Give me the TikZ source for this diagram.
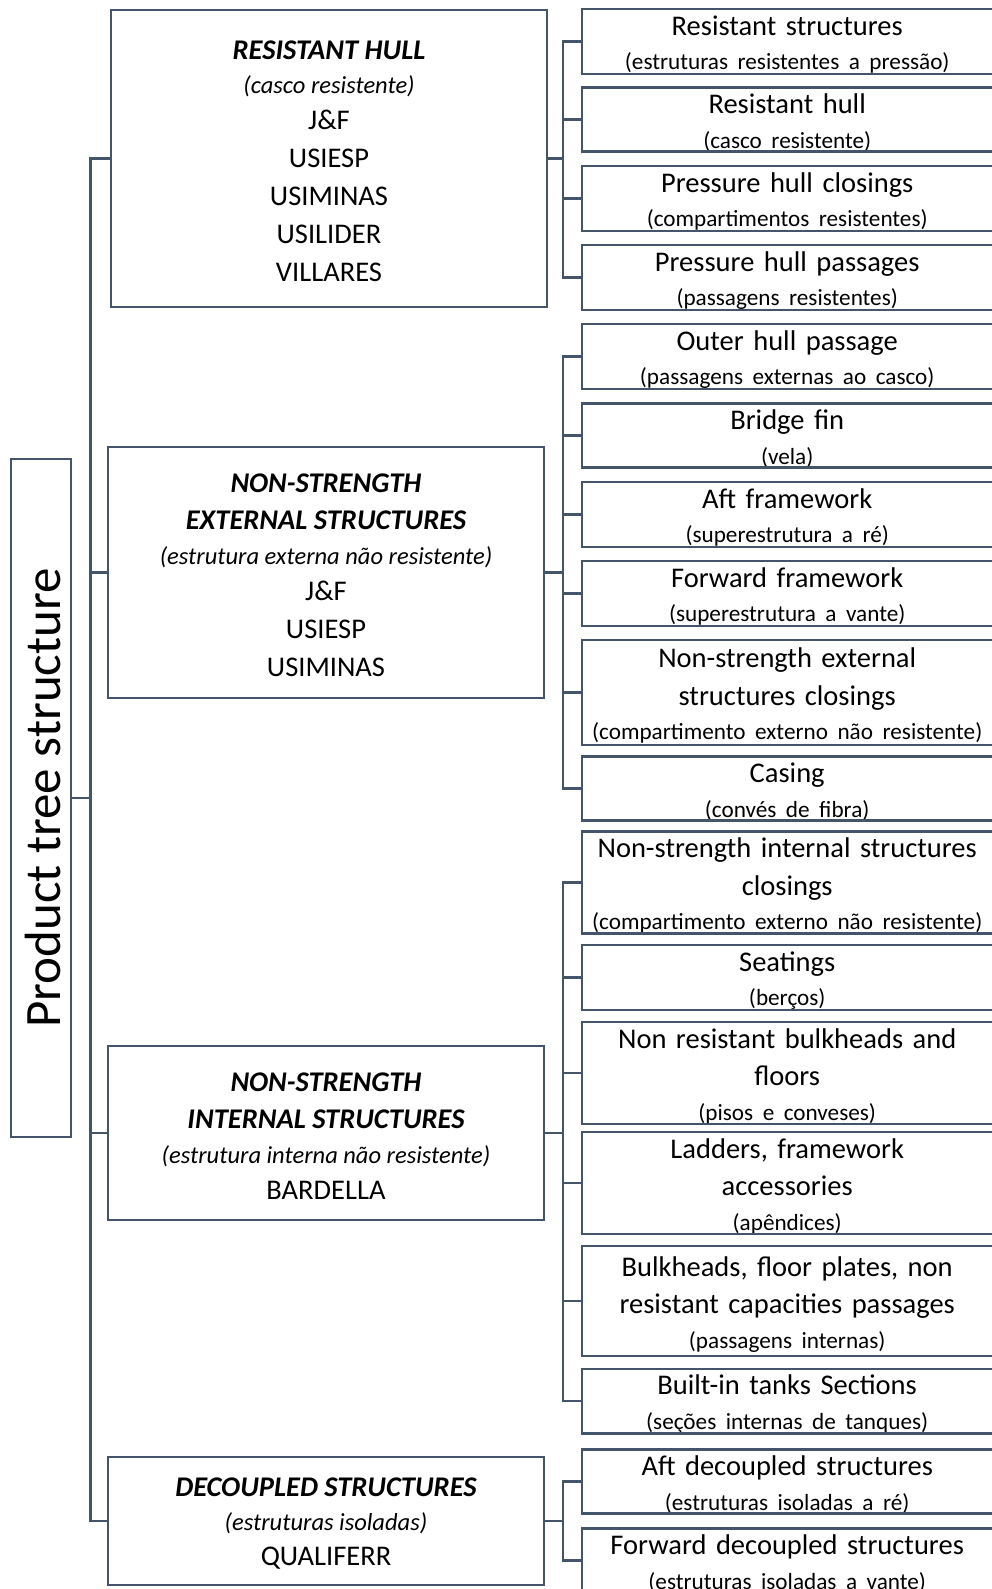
\documentclass[tikz,border=0pt]{standalone}
\usepackage{fontspec}
\setmainfont{Carlito}
\definecolor{edge}{RGB}{68,84,106}
\newcommand\leaffont{\fontsize{28.5}{34.5}\selectfont}
\newcommand\leafsub{\fontsize{23.2}{34.5}\selectfont}
\newcommand\groupfont{\fontsize{28.5}{34}\selectfont}
\newcommand\grouptitle{\fontsize{28.5}{34}\selectfont\bfseries\itshape}
\newcommand\groupsub{\fontsize{24.5}{34}\selectfont\itshape}
\newcommand\rootfont{\fontsize{51}{60}\selectfont}
% struts that set the height of a first line
\newcommand\leafstrut{\rule{0pt}{26pt}}
\newcommand\groupstrut{\rule{0pt}{24pt}}
% one leaf: name, centre y, height, text
\newcommand\leafbox[4]{%
  \node[leaf, minimum height=#3pt] (#1) at (582,#2) {\leafstrut#4};
  \draw[boxline] (#1.north west) rectangle ([xshift=20pt]#1.south east);
}
\begin{document}
\begin{tikzpicture}[x=1pt,y=-1pt,
  boxline/.style={draw=edge, line width=2.2pt},
  conn/.style={draw=edge, line width=2.2pt},
  leaf/.style={inner xsep=0pt, inner ysep=0pt, text width=410pt, align=center,
    anchor=west, font=\leaffont},
  group/.style={boxline, fill=white, minimum width=436pt, inner sep=0pt,
    align=center, font=\groupfont},
  rootbox/.style={boxline, fill=white, minimum width=60pt, minimum height=678pt, inner sep=0pt}]
\useasboundingbox (0,0) rectangle (992,1589);
\clip (0,0) rectangle (992,1589);

\coordinate (trunkx) at (90.5,0);
\coordinate (busx) at (563,0);

% root
\node[rootbox] (root) at (41,798) {};
\node[rotate=90, font=\rootfont, inner sep=0pt] (rootlabel) at (43,798) {Product tree structure};

% first level
\node[group, minimum height=297pt] (RH) at (329,158.5) {%
  \groupstrut\grouptitle RESISTANT HULL\\
  \groupsub (casco resistente)\\[1.5pt]
  J\&F\\[4pt] USIESP\\[4pt] USIMINAS\\[4pt] USILIDER\\[4pt] VILLARES};
\node[group, minimum height=251pt] (NSE) at (326,572.5) {%
  \groupstrut\grouptitle NON-STRENGTH\\[3.5pt]
  \grouptitle EXTERNAL STRUCTURES\\[0.5pt]
  \groupsub (estrutura externa não resistente)\\[2pt]
  J\&F\\[4pt] USIESP\\[4pt] USIMINAS};
\node[group, minimum height=174pt] (NSI) at (326,1133) {%
  \groupstrut\grouptitle NON-STRENGTH\\[3.5pt]
  \grouptitle INTERNAL STRUCTURES\\[0.5pt]
  \groupsub (estrutura interna não resistente)\\[2pt]
  BARDELLA};
\node[group, minimum height=128pt] (DS) at (326,1521) {%
  \groupstrut\grouptitle DECOUPLED STRUCTURES\\
  \groupsub (estruturas isoladas)\\[1.5pt]
  QUALIFERR};

% leaves
\leafbox{l1}{41.5}{63}{Resistant structures\\ {\leafsub (estruturas resistentes a pressão)}}
\leafbox{l2}{119.5}{63}{Resistant hull\\ {\leafsub (casco resistente)}}
\leafbox{l3}{198.5}{63}{Pressure hull closings\\ {\leafsub (compartimentos resistentes)}}
\leafbox{l4}{277.5}{63}{Pressure hull passages\\ {\leafsub (passagens resistentes)}}
\leafbox{l5}{356.5}{63}{Outer hull passage\\ {\leafsub (passagens externas ao casco)}}
\leafbox{l6}{435.5}{63}{Bridge fin\\ {\leafsub (vela)}}
\leafbox{l7}{514.5}{63}{Aft framework\\ {\leafsub (superestrutura a ré)}}
\leafbox{l8}{593.5}{63}{Forward framework\\ {\leafsub (superestrutura a vante)}}
\leafbox{l9}{692.5}{105}{Non-strength external\\[3pt] structures closings\\ {\leafsub (compartimento externo não resistente)}}
\leafbox{l10}{788.5}{63}{Casing\\ {\leafsub (convés de fibra)}}
\leafbox{l11}{882.5}{95}{Non-strength internal structures\\[3pt] closings\\ {\leafsub (compartimento externo não resistente)}}
\leafbox{l12}{977.5}{63}{Seatings\\ {\leafsub (berços)}}
\leafbox{l13}{1073}{96}{Non resistant bulkheads and\\[3pt] floors\\ {\leafsub (pisos e conveses)}}
\leafbox{l14}{1183}{94}{Ladders, framework\\[3pt] accessories\\ {\leafsub (apêndices)}}
\leafbox{l15}{1301}{110}{Bulkheads, floor plates, non\\[3pt] resistant capacities passages\\ {\leafsub (passagens internas)}}
\leafbox{l16}{1401}{62}{Built-in tanks Sections\\ {\leafsub (seções internas de tanques)}}
\leafbox{l17}{1481.5}{63}{Aft decoupled structures\\ {\leafsub (estruturas isoladas a ré)}}
\leafbox{l18}{1560.5}{63}{Forward decoupled structures\\ {\leafsub (estruturas isoladas a vante)}}

% root to first level
\draw[conn] (root.east) -- (root.east -| trunkx);
\foreach \g in {RH,NSE,NSI,DS}
  \draw[conn] (root.east -| trunkx) |- (\g.west);

% first level to leaves
\draw[conn] (RH.east) -- (RH.east -| busx);
\foreach \l in {l1,l2,l3,l4}
  \draw[conn] (RH.east -| busx) |- (\l.west);
\draw[conn] (NSE.east) -- (NSE.east -| busx);
\foreach \l in {l5,l6,l7,l8,l9,l10}
  \draw[conn] (NSE.east -| busx) |- (\l.west);
\draw[conn] (NSI.east) -- (NSI.east -| busx);
\foreach \l in {l11,l12,l13,l14,l15,l16}
  \draw[conn] (NSI.east -| busx) |- (\l.west);
\draw[conn] (DS.east) -- (DS.east -| busx);
\foreach \l in {l17,l18}
  \draw[conn] (DS.east -| busx) |- (\l.west);
\end{tikzpicture}
\end{document}
